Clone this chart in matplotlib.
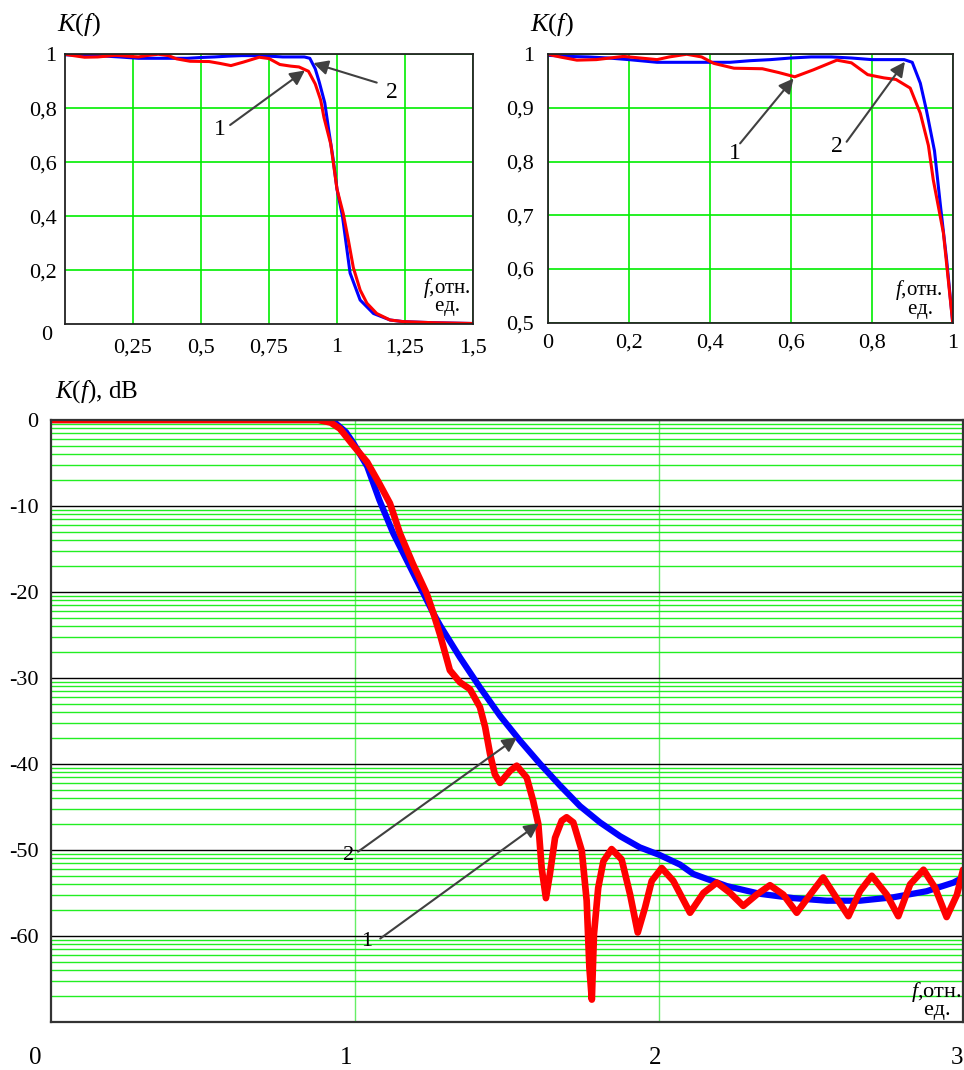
import matplotlib
matplotlib.use('Agg')
import numpy as np
import matplotlib.pyplot as plt

plt.rcParams['font.family'] = ['Liberation Serif', 'DejaVu Serif']
plt.rcParams['mathtext.fontset'] = 'custom'
plt.rcParams['mathtext.rm'] = 'Liberation Serif'
plt.rcParams['mathtext.it'] = 'Liberation Serif:italic'

# linear frequency response, curve 2 (blue) and curve 1 (red)
f_lin_2 = [0, 0.05, 0.1, 0.15, 0.2, 0.27, 0.35, 0.45, 0.5, 0.55, 0.6, 0.65, 0.7,
           0.75, 0.8, 0.85, 0.88, 0.9, 0.92, 0.935, 0.955, 0.97, 0.985, 1.0,
           1.02, 1.048, 1.085, 1.134, 1.195, 1.243, 1.353, 1.5]
k_lin_2 = [0.998, 0.996, 0.995, 0.993, 0.99, 0.985, 0.985, 0.985, 0.988, 0.99,
           0.993, 0.995, 0.995, 0.993, 0.99, 0.99, 0.99, 0.985, 0.946, 0.896,
           0.82, 0.716, 0.617, 0.5, 0.4, 0.19, 0.09, 0.04, 0.016, 0.01, 0.006, 0.003]

f_lin_1 = [0, 0.03, 0.072, 0.12, 0.187, 0.27, 0.3, 0.343, 0.38, 0.41, 0.46, 0.53,
           0.57, 0.61, 0.656, 0.714, 0.75, 0.79, 0.83, 0.86, 0.895, 0.92, 0.94,
           0.952, 0.977, 1.0, 1.023, 1.042, 1.06, 1.085, 1.11, 1.146, 1.195,
           1.243, 1.35, 1.5]
k_lin_1 = [1.0, 0.995, 0.989, 0.99, 0.996, 0.99, 0.995, 1.0, 0.995, 0.983, 0.974,
           0.973, 0.966, 0.958, 0.971, 0.989, 0.984, 0.962, 0.956, 0.953, 0.937,
           0.89, 0.83, 0.766, 0.667, 0.5, 0.41, 0.31, 0.21, 0.127, 0.078, 0.04,
           0.016, 0.01, 0.006, 0.003]

# response in dB
f_db_2 = [0, 0.5, 0.88, 0.93, 0.97, 0.995, 1.04, 1.08, 1.126, 1.17, 1.214, 1.258,
          1.28, 1.345, 1.411, 1.477, 1.543, 1.609, 1.674, 1.74, 1.806, 1.872,
          1.937, 2.003, 2.069, 2.113, 2.223, 2.332, 2.442, 2.552, 2.661, 2.771,
          2.88, 2.968, 3.0]
k_db_2 = [0, 0, 0, -0.2, -1.4, -2.7, -5.4, -9.3, -13.2, -16.3, -19.4, -22.5,
          -23.9, -27.6, -31.1, -34.4, -37.3, -40.0, -42.5, -44.9, -46.8, -48.4,
          -49.7, -50.6, -51.7, -52.8, -54.2, -55.1, -55.6, -55.9, -55.9, -55.5,
          -54.8, -53.8, -53.2]

f_db_1 = [0, 0.5, 0.88, 0.92, 0.95, 0.995, 1.04, 1.08, 1.115, 1.148, 1.19, 1.236,
          1.258, 1.28, 1.312, 1.345, 1.378, 1.411, 1.428, 1.444, 1.46, 1.477,
          1.51, 1.532, 1.565, 1.586, 1.603, 1.614, 1.628, 1.641, 1.658, 1.68,
          1.696, 1.718, 1.746, 1.762, 1.771, 1.779, 1.786, 1.80, 1.817, 1.844,
          1.877, 1.905, 1.93, 1.954, 1.976, 2.009, 2.047, 2.102, 2.146, 2.19,
          2.234, 2.277, 2.321, 2.365, 2.409, 2.453, 2.497, 2.54, 2.584, 2.623,
          2.661, 2.70, 2.749, 2.787, 2.826, 2.87, 2.908, 2.946, 2.98, 3.0]
k_db_1 = [0, 0, 0, -0.3, -1.0, -3.0, -4.9, -7.4, -9.7, -13.2, -16.7, -20.2,
          -22.5, -25.0, -29.1, -30.5, -31.3, -33.4, -35.7, -38.8, -41.2, -42.2,
          -40.8, -40.2, -41.6, -44.3, -47.0, -52.1, -55.6, -52.8, -48.6, -46.6,
          -46.2, -46.8, -50.1, -55.9, -63.7, -67.4, -59.8, -54.4, -51.3, -49.9,
          -51.1, -55.2, -59.6, -56.7, -53.6, -52.1, -53.6, -57.3, -55.0, -53.8,
          -55.0, -56.5, -55.2, -54.1, -55.2, -57.3, -55.2, -53.2, -55.6, -57.7,
          -54.8, -53.0, -55.2, -57.7, -54.0, -52.3, -54.4, -57.8, -55.2, -52.3]

tl_xticks = [0.25, 0.5, 0.75, 1, 1.25, 1.5]
tl_xlabels = ['0,25', '0,5', '0,75', '1', '1,25', '1,5']
tl_yticks = [0.2, 0.4, 0.6, 0.8, 1]
tl_ylabels = ['0,2', '0,4', '0,6', '0,8', '1']

tr_xticks = [0, 0.2, 0.4, 0.6, 0.8, 1]
tr_xlabels = ['0', '0,2', '0,4', '0,6', '0,8', '1']
tr_yticks = [0.5, 0.6, 0.7, 0.8, 0.9, 1]
tr_ylabels = ['0,5', '0,6', '0,7', '0,8', '0,9', '1']

db_majors = [0, -10, -20, -30, -40, -50, -60]
bot_xlabels = ['0', '1', '2', '3']

GREEN = '#00ee00'
BLUE = '#0000ff'
RED = '#ff0000'
ARROW = '#404040'

fig = plt.figure(figsize=(9.64, 10.70), dpi=100)

ax1 = fig.add_axes([0.0674, 0.6969, 0.4233, 0.2524])
ax2 = fig.add_axes([0.5682, 0.6984, 0.4201, 0.2509])
ax3 = fig.add_axes([0.0529, 0.0449, 0.9461, 0.5626])


def style_small(ax):
    for s in ax.spines.values():
        s.set_linewidth(1.3)
        s.set_color('#222222')
    ax.tick_params(length=0, labelsize=16)
    ax.grid(True, color=GREEN, lw=1.2)
    ax.set_axisbelow(True)


def arrow(ax, text, txt_xy, start, tip, size=17):
    ax.annotate('', xy=tip, xytext=start,
                arrowprops=dict(arrowstyle='-|>', color=ARROW, lw=1.5,
                                mutation_scale=22, shrinkA=0, shrinkB=0))
    ax.text(txt_xy[0], txt_xy[1], text, fontsize=size, ha='center', va='center')


def f_label(ax, x, y, size=15):
    # "f, отн." with "ед." under it, one text block
    ax.text(x, y, '$f$,отн.\nед.  ', transform=ax.transAxes, ha='right',
            va='bottom', multialignment='right', linespacing=0.8, fontsize=size)


# top-left
style_small(ax1)
ax1.plot(f_lin_2, k_lin_2, color=BLUE, lw=2.2)
ax1.plot(f_lin_1, k_lin_1, color=RED, lw=2.2)
ax1.set_xlim(0, 1.5)
ax1.set_ylim(0, 1)
ax1.set_xticks(tl_xticks)
ax1.set_xticklabels(tl_xlabels)
ax1.set_yticks(tl_yticks)
ax1.set_yticklabels(tl_ylabels)
ax1.tick_params(axis='x', pad=10)
ax1.tick_params(axis='y', pad=6)
ax1.text(-0.03, -0.04, '0', transform=ax1.transAxes, ha='right', va='center', fontsize=16)
ax1.text(-0.02, 1.11, '$K(f)$', transform=ax1.transAxes, ha='left', va='center', fontsize=19)
arrow(ax1, '1', (0.57, 0.72), (0.607, 0.738), (0.882, 0.94))
arrow(ax1, '2', (1.201, 0.858), (1.146, 0.895), (0.913, 0.967))
f_label(ax1, 0.995, 0.03)

# top-right
style_small(ax2)
ax2.plot(f_lin_2, k_lin_2, color=BLUE, lw=2.2)
ax2.plot(f_lin_1, k_lin_1, color=RED, lw=2.2)
ax2.set_xlim(0, 1)
ax2.set_ylim(0.5, 1)
ax2.set_xticks(tr_xticks)
ax2.set_xticklabels(tr_xlabels)
ax2.set_yticks(tr_yticks)
ax2.set_yticklabels(tr_ylabels)
ax2.tick_params(axis='x', pad=8)
ax2.tick_params(axis='y', pad=10)
ax2.text(-0.045, 1.11, '$K(f)$', transform=ax2.transAxes, ha='left', va='center', fontsize=19)
arrow(ax2, '1', (0.461, 0.815), (0.475, 0.834), (0.607, 0.955))
arrow(ax2, '2', (0.714, 0.828), (0.738, 0.837), (0.882, 0.986))
f_label(ax2, 0.976, 0.015)

# bottom, dB
for s in ax3.spines.values():
    s.set_linewidth(1.6)
    s.set_color('#333333')
minor = []
for m in db_majors:
    for k in range(2, 10):
        minor.append(m - 10 * (1 - np.log10(k)))
ax3.set_xlim(0, 3)
ax3.set_ylim(-70, 0)
ax3.set_yticks(db_majors)
ax3.set_yticklabels([str(v) for v in db_majors])
ax3.set_yticks(minor, minor=True)
ax3.set_xticks([1, 2])
ax3.set_xticklabels(['', ''])
ax3.tick_params(which='both', length=0, labelsize=16)
ax3.tick_params(axis='y', pad=9)
ax3.grid(True, which='minor', axis='y', color='#22ee22', lw=1.0)
ax3.grid(True, which='major', axis='y', color='black', lw=1.0)
ax3.grid(True, which='major', axis='x', color='#66ee66', lw=1.0)
ax3.set_axisbelow(True)
ax3.plot(f_db_2, k_db_2, color=BLUE, lw=4.5, solid_joinstyle='round', solid_capstyle='round')
ax3.plot(f_db_1, k_db_1, color=RED, lw=4.8, solid_joinstyle='round', solid_capstyle='round')
for xv, lab in zip([-0.053, 0.97, 1.987, 2.98], bot_xlabels):
    ax3.text(xv, -0.06, lab, transform=ax3.get_xaxis_transform(), ha='center',
             va='center', fontsize=18)
ax3.text(0.004, 1.047, '$K(f)$, dB', transform=ax3.transAxes, ha='left', va='center',
         fontsize=18)
arrow(ax3, '2', (0.98, -50.7), (1.01, -50.2), (1.533, -36.9), size=16)
arrow(ax3, '1', (1.04, -60.7), (1.083, -60.3), (1.605, -46.9), size=16)
f_label(ax3, 0.999, 0.003, size=16)

fig.savefig('out.png', dpi=100)
